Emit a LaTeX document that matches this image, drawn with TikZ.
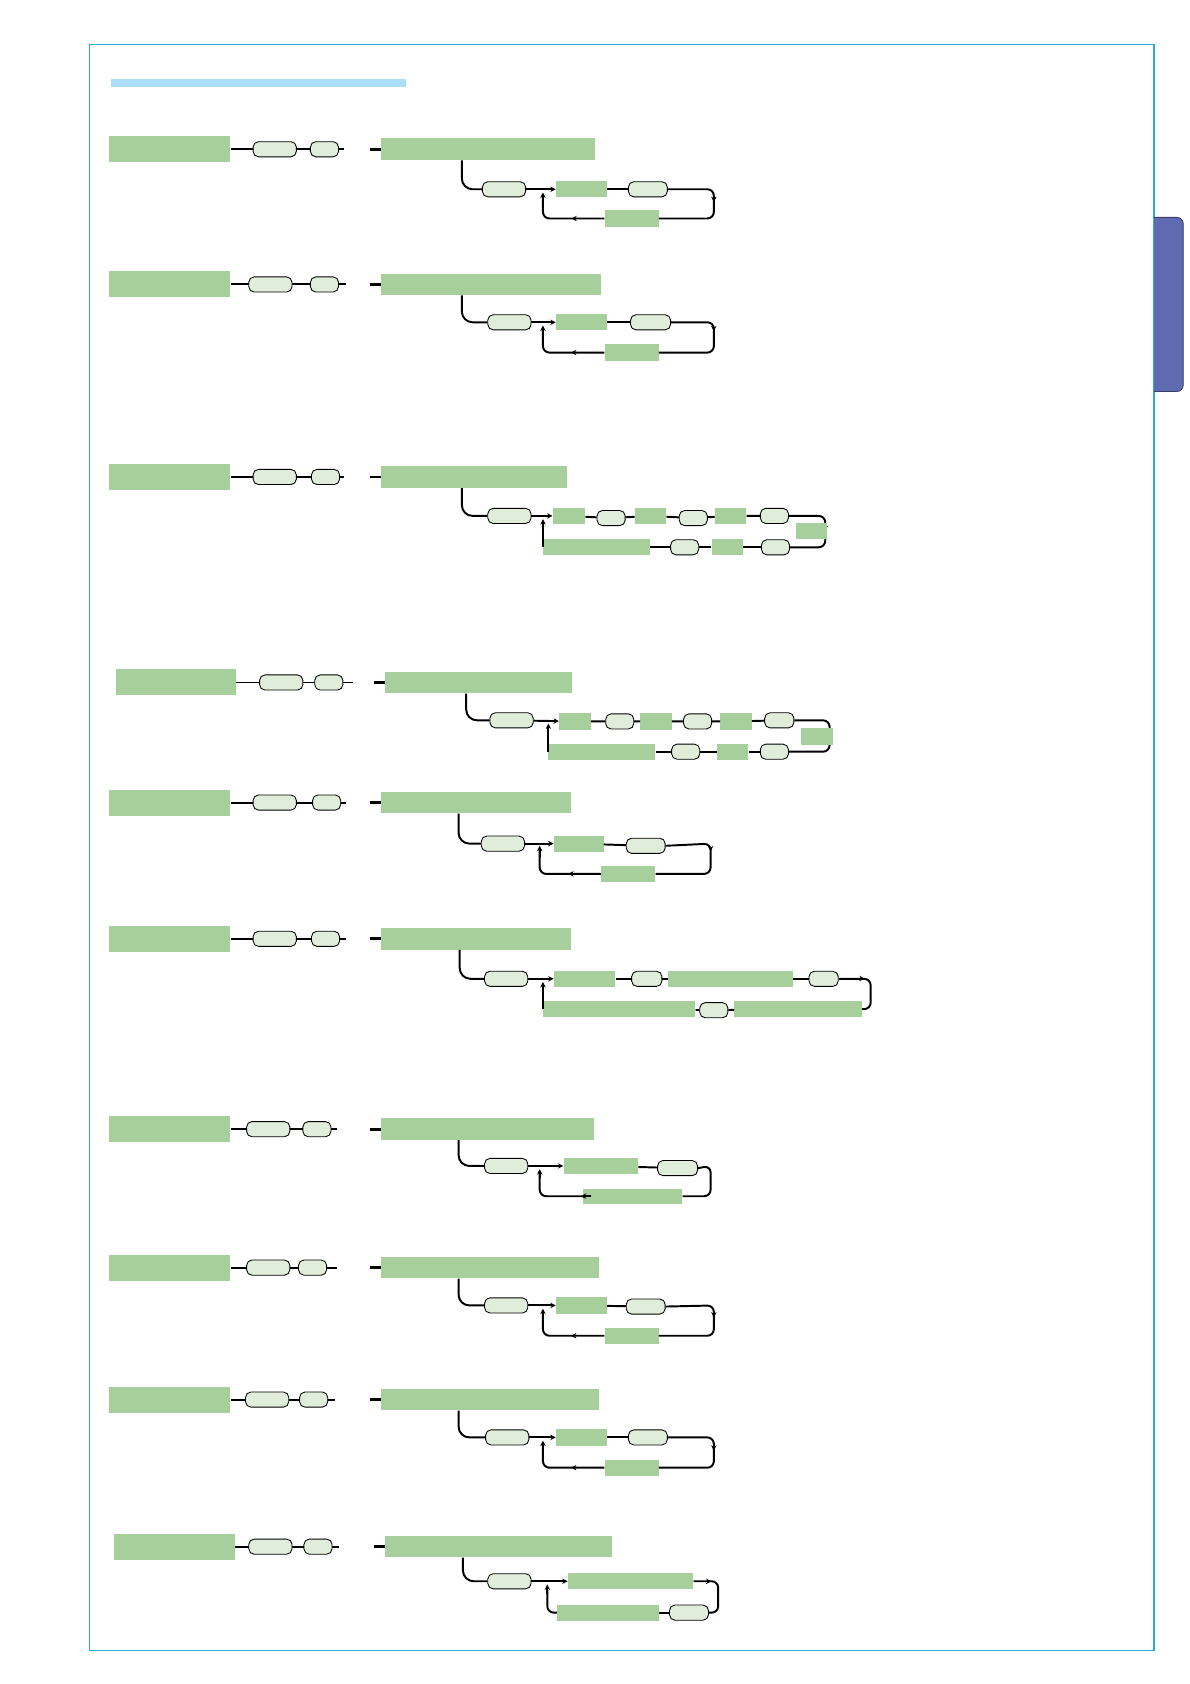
\documentclass[tikz,border=0pt]{standalone}
\usetikzlibrary{arrows.meta,decorations.markings}
\definecolor{grn}{HTML}{A6CF9C}
\definecolor{pal}{HTML}{E1EDDB}
\definecolor{frm}{HTML}{2AAAD8}
\definecolor{ttl}{HTML}{ACDEF7}
\definecolor{tab}{HTML}{5F6BB0}
\tikzset{
  gbox/.style={fill=grn,inner sep=0pt},
  pill/.style={fill=pal,draw=black,line width=0.8pt,rounded corners=5pt,inner sep=0pt,minimum height=14pt},
  lnk/.style={line width=1.8pt,black},
  loopline/.style={lnk,rounded corners=6pt},
  midarr/.style={postaction={decorate},decoration={markings, mark=at position #1 with {
        \arrow{Stealth[width=5pt,length=5pt]}}}},
  bigarr/.style={line width=2.5pt,-{Triangle[width=11pt,length=8pt]}},
  tip/.style={-{Stealth[width=5pt,length=5pt]}}
}
% green box: name, x1, x2, y, height
\newcommand{\gb}[5]{\node[gbox,minimum width={#3pt-#2pt},minimum height=#5pt] (#1) at ({(#2+#3)/2},#4) {};}
% pill: name, x1, x2, y
\newcommand{\pl}[4]{\node[pill,minimum width={#3pt-#2pt}] (#1) at ({(#2+#3)/2},#4) {};}
% left part of a row: prefix, y, box x1, box x2, pill a, pill b, end, arrow x, top box x2
\newcommand{\headrow}[9]{%
  \gb{#1l}{#3}{#4}{#2}{24}
  \coordinate (#1e) at (#7,#2);
  \draw[lnk] (#1l.east) -- (#1e);
  \node[pill,minimum width=40pt] (#1a) at (#5,#2) {};
  \node[pill,minimum width=26pt] (#1b) at (#6,#2) {};
  \coordinate (#1s) at (#8-10,#2);
  \coordinate (#1t) at (#8+10,#2);
  \draw[bigarr] (#1s) -- (#1t);
  \gb{#1h}{#8+18}{#9}{#2}{20}}
% hook from top box down to first pill: prefix, hook x
\newcommand{\hook}[2]{\coordinate (#1x) at (#2,0);
  \coordinate (#1k) at (#1h.south -| #1x);
  \draw[lnk,rounded corners=10pt] (#1k) |- (#1p.west);}
\begin{document}
\begin{tikzpicture}[x=1pt,y=-1pt]
\useasboundingbox (0,0) rectangle (1100,1557);
\draw[frm,line width=1.3pt] (83,41) rectangle (1067,1526);
\fill[ttl] (103,73) rectangle (375,80);
\draw[tab!60!black,fill=tab,line width=0.8pt,rounded corners=6pt] (1067,201) -- (1094,201) -- (1094,362) -- (1067,362);

% row 1
\headrow{a}{138}{101}{213}{254}{300}{318}{352}{532}
\pl{ap}{446}{486}{175} \hook{a}{427}
\gb{ag}{514}{561}{175}{15} \pl{aq}{581}{617}{175} \gb{ar}{559}{609}{202}{15}
\draw[lnk,tip] (ap) -- (ag); \draw[lnk] (ag) -- (aq);
\draw[loopline,midarr=0.45] (aq.east) -- (660,175) -- (660,202) -- (ar.east);
\draw[loopline,midarr=0.4] (ar.west) -- (502,202) -- (502,180);
\draw[lnk,tip] (502,186) -- (502,178);

% row 2
\headrow{b}{263}{101}{213}{250}{300}{320}{352}{538}
\pl{bp}{451}{491}{298} \hook{b}{427}
\gb{bg}{514}{561}{298}{15} \pl{bq}{583}{620}{298} \gb{br}{559}{609}{326}{15}
\draw[lnk,tip] (bp) -- (bg); \draw[lnk] (bg) -- (bq);
\draw[loopline,midarr=0.4] (bq.east) -- (660,298) -- (660,326) -- (br.east);
\draw[loopline,midarr=0.4] (br.west) -- (502,326) -- (502,303);
\draw[lnk,tip] (502,309) -- (502,301);

% row 3
\headrow{c}{441}{101}{213}{254}{301}{318}{352}{506}
\pl{cp}{451}{491}{477} \hook{c}{427}
\gb{c1}{511}{541}{477}{15} \pl{c2}{552}{578}{479} \gb{c3}{587}{616}{477}{15}
\pl{c4}{628}{654}{479} \gb{c5}{661}{690}{477}{15} \pl{c6}{703}{729}{477}
\gb{c7}{502}{601}{506}{15} \pl{c8}{620}{646}{506} \gb{c9}{658}{687}{506}{15} \pl{c10}{704}{730}{506}
\draw[lnk,tip] (cp) -- (c1); \draw[lnk] (c1) -- (c2) -- (c3) -- (c4) -- (c5) -- (c6);
\draw[loopline,midarr=0.5] (c6.east) -- (763,477) -- (763,506) -- (c10.east);
\draw[lnk] (c10) -- (c9) -- (c8) -- (c7);
\gb{c11}{736}{765}{491}{15}
\draw[lnk,tip] (502,506) -- (502,480);

% row 4
\headrow{d}{631}{107}{218}{260}{304}{326}{356}{511}
\pl{dp}{453}{493}{666} \hook{d}{431}
\gb{d1}{517}{546}{667}{15} \pl{d2}{560}{586}{667} \gb{d3}{592}{621}{667}{15}
\pl{d4}{632}{658}{667} \gb{d5}{666}{695}{667}{15} \pl{d6}{707}{734}{666}
\gb{d7}{507}{606}{695}{15} \pl{d8}{621}{647}{695} \gb{d9}{663}{692}{695}{15} \pl{d10}{703}{729}{695}
\draw[lnk,tip] (dp) -- (d1); \draw[lnk] (d1) -- (d2) -- (d3) -- (d4) -- (d5) -- (d6);
\draw[loopline,midarr=0.5] (d6.east) -- (767,666) -- (767,695) -- (d10.east);
\draw[lnk] (d10) -- (d9) -- (d8) -- (d7);
\gb{d11}{741}{770}{681}{15}
\draw[lnk,tip] (507,695) -- (507,669);

% row 5
\headrow{e}{742}{101}{213}{254}{302}{320}{352}{510}
\pl{ep}{445}{485}{780} \hook{e}{424}
\gb{eg}{512}{558}{780}{15} \pl{eq}{579}{615}{782} \gb{er}{556}{606}{808}{15}
\draw[lnk,tip] (ep) -- (eg); \draw[lnk] (eg) -- (eq);
\draw[loopline,midarr=0.4] (eq.east) -- (657,780) -- (657,808) -- (er.east);
\draw[loopline,midarr=0.4] (er.west) -- (499,808) -- (499,786);
\draw[lnk,tip] (499,792) -- (499,782);

% row 6
\headrow{f}{868}{101}{213}{254}{301}{320}{352}{510}
\pl{fp}{448}{488}{905} \hook{f}{425}
\gb{f1}{512}{569}{905}{15} \pl{f2}{584}{612}{905} \gb{f3}{618}{733}{905}{15} \pl{f4}{748}{775}{905}
\gb{f5}{502}{643}{933}{15} \pl{f6}{647}{673}{934} \gb{f7}{679}{797}{933}{15}
\draw[lnk,tip] (fp) -- (f1); \draw[lnk] (f1) -- (f2) -- (f3) -- (f4);
\draw[loopline,midarr=0.4] (f4.east) -- (805,905) -- (805,933) -- (f7.east);
\draw[lnk] (f7) -- (f6) -- (f5);
\draw[lnk,tip] (502,933) -- (502,908);

% row 7
\headrow{g}{1044}{101}{213}{248}{293}{312}{352}{531}
\pl{gp}{448}{488}{1078} \hook{g}{424}
\gb{gg}{521}{590}{1078}{15} \pl{gq}{608}{645}{1080} \gb{gr}{539}{631}{1106}{14}
\draw[lnk,tip] (gp) -- (gg); \draw[lnk] (gg) -- (gq);
\draw[loopline] (gq.east) -- (657,1078) -- (657,1106) -- (gr.east);
\draw[loopline] (gr.west) -- (499,1106) -- (499,1083);
\draw[lnk,tip] (546,1106) -- (537,1106);
\draw[lnk,tip] (499,1089) -- (499,1081);

% row 8
\headrow{h}{1172}{101}{213}{248}{289}{312}{352}{536}
\pl{hp}{448}{488}{1207} \hook{h}{424}
\gb{hg}{514}{561}{1207}{15} \pl{hq}{579}{615}{1208} \gb{hr}{559}{609}{1235}{15}
\draw[lnk,tip] (hp) -- (hg); \draw[lnk] (hg) -- (hq);
\draw[loopline,midarr=0.45] (hq.east) -- (660,1207) -- (660,1235) -- (hr.east);
\draw[loopline,midarr=0.4] (hr.west) -- (502,1235) -- (502,1212);
\draw[lnk,tip] (502,1218) -- (502,1210);

% row 9
\headrow{i}{1294}{101}{213}{247}{290}{310}{352}{536}
\pl{ip}{449}{489}{1329} \hook{i}{424}
\gb{ig}{514}{561}{1329}{15} \pl{iq}{581}{617}{1329} \gb{ir}{559}{609}{1357}{15}
\draw[lnk,tip] (ip) -- (ig); \draw[lnk] (ig) -- (iq);
\draw[loopline,midarr=0.45] (iq.east) -- (660,1329) -- (660,1357) -- (ir.east);
\draw[loopline,midarr=0.4] (ir.west) -- (502,1357) -- (502,1334);
\draw[lnk,tip] (502,1340) -- (502,1332);

% row 10
\headrow{j}{1430}{105}{217}{250}{294}{313}{356}{548}
\pl{jp}{451}{491}{1462} \hook{j}{428}
\gb{jg}{525}{641}{1462}{15} \gb{jr}{515}{609}{1491}{15} \pl{jq}{619}{655}{1491}
\draw[lnk,tip] (jp) -- (jg);
\draw[loopline,midarr=0.3] (jg.east) -- (664,1462) -- (664,1491) -- (jq.east);
\draw[lnk] (jq) -- (jr);
\draw[lnk,rounded corners=6pt] (jr.west) -- (506,1491) -- (506,1470);
\draw[lnk,tip] (506,1474) -- (506,1465);
\end{tikzpicture}
\end{document}
